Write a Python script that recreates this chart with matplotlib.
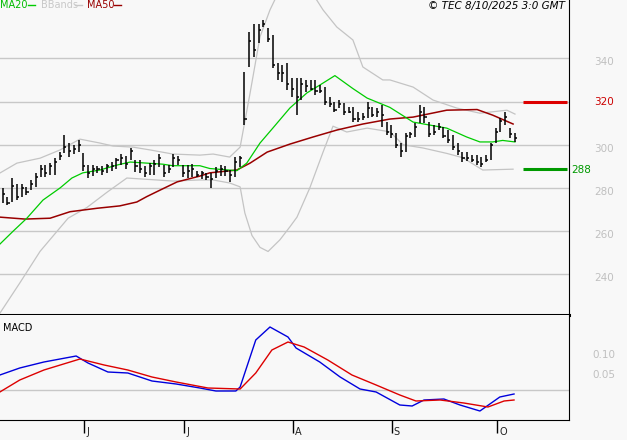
import matplotlib
matplotlib.use("Agg")
import matplotlib.pyplot as plt
import numpy as np

lows = [273,272,273.5,274.5,276,276.8,279,280.5,285,285,286,286,293,296,294.4,295.5,296.6,288,284.6,285.5,
        287,286,287,288,289,290.6,289,293,287.5,287,285,286,286,289.7,285,287,289.7,290.6,285,284.5,
        285,285,284,283.6,280,284.6,285.6,285.6,282.8,285,289.7,309,336,340.6,347,354.5,347.6,335.5,330,329,
        325.3,322,313.7,320.7,324.4,325.3,323,324,318.4,317.5,315,317,313.7,314.6,310.5,310.5,311.4,312.3,312.8,313,308,
        304.5,303,298.5,294.4,296.6,303,303.5,310,310,303.5,304.5,306.8,303,301,297.6,295.2,292,292.5,292,290.6,289.7,292,293,300.8,305.9,309,303,301.2]
highs = [280,276,284.5,282,282,280.5,283.7,287,290.5,290.5,291.5,294,296.6,304.5,301,300,302,296,290.6,290.5,
         290,290,291,292,294,295.6,295,298.5,293,293,290,291.5,293,295.6,290.6,290.6,295.6,295,290.6,290.6,
         291,288,288,287,287,289.7,290.6,290,288.3,294.5,294.8,333.7,352,356,356,357.7,354,350.8,338,337,
         338,331,331,331,330,330,330,327.6,326.7,322,319.8,320.7,319.3,317.5,317.5,315,314.7,319.8,317.5,317,318.4,
         310.5,309,305.4,301,305.4,305.9,310,318.4,317.5,310.5,309,310,308,306.8,304.5,300.8,296.6,296.6,295.2,295.2,294.3,295.2,301,307.8,312.3,315,307.8,305.4]
closes = [277,273,281,276,280,278,282,285,289,287,290,292,295,299,297,298,300,290,287,289,289,288,290,290,293,294,291,297,290,289,287,290,291,294,287,289,294,293,287,288,
          289,286,287,285,284,288,289,288,286,292,294,312,348,344,353,356,349,337,333,333,328,326,322,328,327,326,325,325,320,319,316,319,315,315,312,312,313,317,314,315,314,
          306,305,300,297,304,305,308,315,313,305,306,308,304,302,299,297,294,294,293,292,291,293,300,306,311,313,305,303]

ma20_x = [-0.6,2.2,5.1,8.5,12.1,14.6,16.9,20.5,24.1,26.9,30.4,33.8,35.9,41.6,43.7,49.4,51.5,54.3,57,60.6,64.2,66.9,70.1,73.9,76.9,81.7,86.6,93.7,97.9,100.7,103.4,105.5,108.1]
ma20_y = [254,260,266,274.4,280,284.6,287,288.3,290.6,292,291.5,291,290.3,290.3,289,288,291.5,300.8,307.7,317,324,327.6,332,326,321.6,317.3,310.5,307.7,303.6,301.3,301.3,302,301.3]
ma50_x = [-0.6,4.7,10,14.2,19.9,24.7,28.3,30.4,33.2,36.8,41.6,43.7,49.4,52.2,55.8,60.6,65.5,70.5,76,81.7,86.6,93.7,100.1,103.4,107.7]
ma50_y = [266.5,265.6,266,269,270.6,271.7,273.5,276,279,282.8,285.5,287,288.3,291.5,296.6,300.3,303.6,306.8,309.6,311.9,312.8,316,316.3,313.7,309.6]
bbu_x = [-0.6,3,7.9,12.1,16.3,20.5,23.3,27.5,31.1,35.9,41.6,44.4,47.9,50.1,52.2,54.3,56.4,58.5,61.7,64.8,67.6,70.5,73.9,76,80.2,81.7,86.6,90.8,95.8,100.7,106.4,108.1]
bbu_y = [286.9,291.5,293.8,297.6,302.6,300.8,299.4,298.9,297.6,295.7,295.2,295.7,294.3,298.9,323.9,350,362.4,372,378,372,362.4,354.5,348.5,336,330,330,326.7,320.7,317,314.6,316,314.2]
bbl_x = [-0.6,3.6,7.9,13.8,17.8,22,26.2,30.4,35.9,41.6,44.4,47.9,50.1,51.1,52.6,54.3,56,58.5,60.6,62.1,64.8,67.6,69.7,72.6,76.9,81.7,84.5,88.7,93.7,97.1,101.3,107.7]
bbl_y = [222,236,250.7,266,271,278,284.6,284,283.2,283.7,283.7,282.3,280.5,268.4,258,252.5,250.6,256,262,266.5,280,296.6,308.6,305.9,307.7,306,300,298.5,296,294,288.3,288.7]
macd_x = [-0.6,3.6,8.7,15.5,18,22.2,26.4,31.5,36.6,41.6,45,49.2,50.1,53.4,56.4,60.2,61.9,66.9,71.2,75.4,78.8,83.8,86.4,88.9,93.1,96.5,100.7,104.9,107.9]
macd_y = [0.0375,0.055,0.07,0.085,0.0675,0.045,0.0425,0.0225,0.015,0.005,-0.0025,-0.0025,0.0075,0.125,0.1575,0.1325,0.105,0.07,0.0325,0.0025,-0.005,-0.0375,-0.04,-0.025,-0.0225,-0.0375,-0.0525,-0.0175,-0.01]
sig_x = [-0.6,3.6,8.7,16.3,21.4,26.4,31.5,36.6,43.3,50.1,53.4,56.8,60.2,63.6,68.6,73.7,78.8,83.8,87.2,92.3,97.3,102.4,105.8,107.9]
sig_y = [-0.005,0.025,0.05,0.0775,0.0625,0.05,0.0325,0.02,0.005,0.0025,0.0425,0.1,0.12,0.1075,0.075,0.0375,0.0125,-0.0125,-0.0275,-0.025,-0.0325,-0.0425,-0.0275,-0.025]
month_pos = [17.2, 38.3, 61.2, 82.1, 104.3]
month_lbl = ["J", "J", "A", "S", "O"]
price_ticks = [240, 260, 280, 300, 320, 340]
macd_ticks = [0.05, 0.10]
macd_lbls = ["0.05", "0.10"]
resist, support = 320, 288.6

W, H = 627, 440
bg = "#f8f8f8"
grid = "#c8c8c8"
fig = plt.figure(figsize=(W/100, H/100), dpi=100, facecolor=bg)
XL = (-0.57, 119.5)

ax = fig.add_axes([0, 1-315/H, 569/W, 315/H], facecolor=bg)
ax.set_xlim(*XL); ax.set_ylim(221.2, 367)
for t in price_ticks:
    ax.axhline(t, color=grid, lw=1, zorder=0)
ax.plot(bbu_x, bbu_y, color="#c4c4c4", lw=0.9)
ax.plot(bbl_x, bbl_y, color="#c4c4c4", lw=0.9)
ax.plot(ma50_x, ma50_y, color="#990000", lw=1.1)
ax.plot(ma20_x, ma20_y, color="#00cc00", lw=0.9)
idx = np.arange(len(closes))
ax.vlines(idx, lows, highs, color="black", lw=1.1, zorder=3)
ax.hlines(closes, idx, idx+0.45, color="black", lw=1.1, zorder=3)
ax.hlines(resist, 109.8, 119, color="#dd0000", lw=2.2)
ax.hlines(support, 109.8, 119, color="#009900", lw=2.2)
for s in ax.spines.values(): s.set_visible(False)
ax.spines["right"].set_visible(True); ax.spines["right"].set_color("black")
ax.spines["bottom"].set_visible(True); ax.spines["bottom"].set_linewidth(2.2)
ax.set_xticks([]); ax.set_yticks([])

mx = fig.add_axes([0, 1-420/H, 569/W, 105/H], facecolor=bg)
mx.set_xlim(*XL); mx.set_ylim(-0.075, 0.1875)
mx.axhline(0, color=grid, lw=1, zorder=0)
mx.plot(macd_x, macd_y, color="#0000dd", lw=1)
mx.plot(sig_x, sig_y, color="#dd0000", lw=1)
for s in mx.spines.values(): s.set_visible(False)
mx.spines["right"].set_visible(True); mx.spines["bottom"].set_visible(True)
mx.set_yticks([])
mx.set_xticks(month_pos); mx.set_xticklabels([])
mx.tick_params(axis="x", length=9, width=1, direction="out", color="black")
for p, l in zip(month_pos, month_lbl):
    mx.annotate(l, (p, 0), xycoords=("data", "axes fraction"), xytext=(1.5, -8.5),
                textcoords="offset points", fontsize=7, ha="left", va="center", color="#222222")
mx.text(0.005, 0.88, "MACD", transform=mx.transAxes, fontsize=7, va="center")

def fy(py): return 1 - py/H
for t in price_ticks:
    py = 58.3 + (340 - t)*2.16
    if t != 320:
        fig.text(604/W, fy(py+4), str(t), fontsize=7.5, color="#c0c0c0", ha="center", va="center")
for t, l in zip(macd_ticks, macd_lbls):
    py = 390 - t/0.0025
    fig.text(604/W, fy(py+5), l, fontsize=7.5, color="#c0c0c0", ha="center", va="center")
fig.text(604/W, fy(102), "320", fontsize=7.5, color="#cc0000", ha="center", va="center")
fig.text(571/W, fy(170), "288", fontsize=7.5, color="#009900", ha="left", va="center")

fig.text(0/W, fy(5), "MA20", fontsize=7, color="#00bb00", va="center")
fig.add_artist(plt.Line2D([28/W, 35/W], [fy(5)]*2, color="#00cc00", lw=1))
fig.text(41/W, fy(5), "BBands", fontsize=7, color="#c8c8c8", va="center")
fig.add_artist(plt.Line2D([75/W, 82/W], [fy(5)]*2, color="#c8c8c8", lw=1))
fig.text(87/W, fy(5), "MA50", fontsize=7, color="#990000", va="center")
fig.add_artist(plt.Line2D([114/W, 121/W], [fy(5)]*2, color="#990000", lw=1))
fig.text(565/W, fy(6), "© TEC 8/10/2025 3:0 GMT", fontsize=7.5, style="italic", ha="right", va="center")

fig.savefig("out.png", dpi=100, facecolor=bg)
